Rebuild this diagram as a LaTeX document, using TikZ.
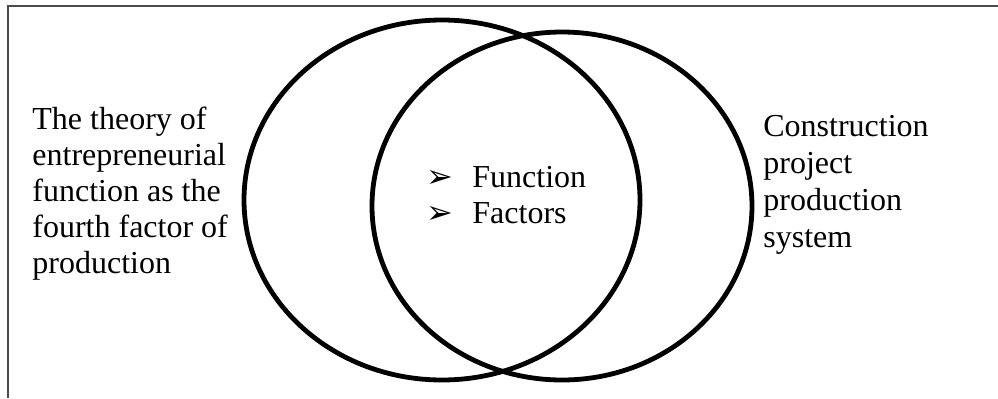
\documentclass[tikz,border=0pt]{standalone}
\usepackage{fontspec}
\setmainfont{Liberation Serif}
\newfontfamily\symfont{DejaVu Sans}
\usetikzlibrary{shapes.geometric}
\begin{document}
\begin{tikzpicture}[x=0.5pt,y=-0.5pt,
  setcircle/.style={draw=black, line width=2.4pt, ellipse, inner sep=0pt},
  label/.style={inner sep=0pt, align=left, anchor=base west, font=\fontsize{16}{18}\selectfont},
  bullet/.style={inner sep=0pt, anchor=base west, font=\symfont\fontsize{16}{18}\selectfont},
  frameline/.style={draw=black!70, line width=1pt}]
\useasboundingbox (0,0) rectangle (998,398);
\coordinate (fTopR) at (998,5.5);
\coordinate (fCorner) at (7.5,5.5);
\coordinate (fBot) at (7.5,398);
\draw[frameline] (fTopR) -- (fCorner) -- (fBot);
\node[setcircle, minimum width=198pt, minimum height=180pt] (left) at (442,200) {};
\node[setcircle, minimum width=190pt, minimum height=174pt] (right) at (562,206) {};
% base anchor of a multi-line node = baseline of its last line
\node[label] (lt) at (32,273) {The theory of\\entrepreneurial\\function as the\\fourth factor of\\production};
\node[label, font=\fontsize{16}{18.5}\selectfont] (rt) at (763,247) {Construction\\project\\production\\system};
\node[bullet] (b1) at (426,187) {➢};
\node[bullet] (b2) at (426,223) {➢};
\node[label] (t1) at (472,187) {Function};
\node[label] (t2) at (472,223) {Factors};
\end{tikzpicture}
\end{document}
